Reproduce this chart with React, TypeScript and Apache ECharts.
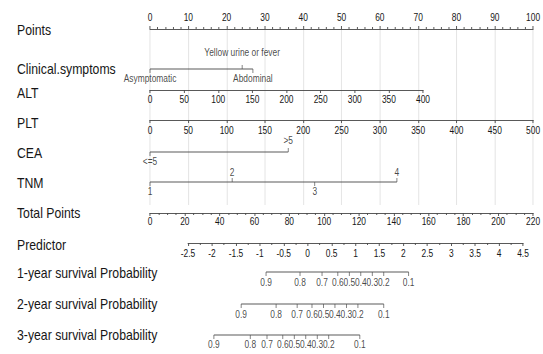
import React, { useEffect, useRef } from "react";
import * as echarts from "echarts";

const FONT = "'Liberation Sans', Arial, sans-serif";
const TEXT = "#161616";
const AXIS = "#4a4a4a";

// ---- data ----
const rowLabels = [
  "Points",
  "Clinical.symptoms",
  "ALT",
  "PLT",
  "CEA",
  "TNM",
  "Total Points",
  "Predictor",
  "1-year survival Probability",
  "2-year survival Probability",
  "3-year survival Probability",
];

const pointsRange = [0, 100];
const pointsInterval = 10;

const clinicalCategories = ["Asymptomatic", "Yellow urine or fever", "Abdominal"];
const clinicalPoints = [0, 24, 26.8];
const clinicalSides = ["bottom", "top", "bottom"];

const altRange = [0, 400];
const altInterval = 50;
const altMaxPoints = 71.1;

const pltRange = [0, 500];
const pltInterval = 50;
const pltMaxPoints = 100;

const ceaCategories = ["<=5", ">5"];
const ceaPoints = [0, 36];
const ceaSides = ["bottom", "top"];

const tnmCategories = ["1", "2", "3", "4"];
const tnmPoints = [0, 21.4, 42.9, 64.3];
const tnmSides = ["bottom", "top", "bottom", "top"];

const totalRange = [0, 220];
const totalInterval = 20;

const predictorRange = [-2.5, 4.5];
const predictorInterval = 0.5;
const predictorTotalPoints = [21.8, 213.7];

const survivalLabels = ["0.9", "0.8", "0.7", "0.6", "0.5", "0.4", "0.3", "0.2", "0.1"];
const survival1Year = [-0.87, -0.16, 0.3, 0.63, 0.87, 1.11, 1.35, 1.59, 2.11];
const survival2Year = [-1.39, -0.66, -0.22, 0.09, 0.33, 0.57, 0.81, 1.05, 1.59];
const survival3Year = [-1.96, -1.2, -0.85, -0.52, -0.28, -0.04, 0.2, 0.44, 1.09];

// ---- layout (reference pixels; the drawing is condensed horizontally by SX) ----
const SX = 0.84;
const W = 543;
const H = 354;
const PTS_LEFT = 150 / SX;
const PTS_WIDTH = 384 / SX;
const LABEL_X = 17 / SX;
const labelY = [30, 69, 93, 123, 153, 183, 213, 245, 273, 304, 335];

function buildOption() {
  const grid: any[] = [];
  const xAxis: any[] = [];
  const yAxis: any[] = [];
  const series: any[] = [];

  const axisCommon = (min: number, max: number, interval: number, position: string, margin: number, minorSplit: number) => ({
    type: "value",
    min,
    max,
    interval,
    position,
    axisLine: { show: true, onZero: false, lineStyle: { color: AXIS, width: 1 } },
    axisTick: { show: true, length: 3, lineStyle: { color: AXIS, width: 1 } },
    minorTick: { show: minorSplit > 0, splitNumber: minorSplit || 5, length: 2, lineStyle: { color: AXIS, width: 1 } },
    axisLabel: { fontSize: 10, color: TEXT, fontFamily: FONT, margin, showMinLabel: true, showMaxLabel: true },
    splitLine: { show: false },
  });

  const addAxisRow = (left: number, width: number, top: number, height: number, x: any) => {
    const i = grid.length;
    grid.push({ left, width, top, height });
    xAxis.push({ gridIndex: i, ...x });
    yAxis.push({ gridIndex: i, type: "value", show: false, min: -1, max: 1 });
    return i;
  };

  const addCustomRow = (
    left: number,
    width: number,
    centerY: number,
    min: number,
    max: number,
    positions: number[],
    names: string[],
    sides: string[],
    dTop: number,
    dBottom: number,
    fontSize: number
  ) => {
    const i = grid.length;
    grid.push({ left, width, top: centerY - 10, height: 20 });
    xAxis.push({ gridIndex: i, type: "value", show: false, min, max });
    yAxis.push({ gridIndex: i, type: "value", show: false, min: -1, max: 1 });
    series.push({
      type: "line",
      xAxisIndex: i,
      yAxisIndex: i,
      data: [
        [Math.min(...positions), 0],
        [Math.max(...positions), 0],
      ],
      symbol: "none",
      clip: false,
      silent: true,
      lineStyle: { color: AXIS, width: 1 },
    });
    series.push({
      type: "scatter",
      xAxisIndex: i,
      yAxisIndex: i,
      symbol: "rect",
      clip: false,
      silent: true,
      itemStyle: { color: AXIS },
      data: positions.map((p, k) => ({
        value: [p, 0],
        name: names[k],
        symbolSize: [1, 4],
        symbolOffset: [0, sides[k] === "top" ? -2 : 2],
        label: {
          show: true,
          position: sides[k],
          distance: sides[k] === "top" ? dTop : dBottom,
          formatter: "{b}",
          fontSize,
          color: TEXT,
          fontFamily: FONT,
        },
      })),
    });
  };

  const ptsWidth = (p: number) => (PTS_WIDTH * p) / (pointsRange[1] - pointsRange[0]);

  // Points (with vertical reference lines)
  addAxisRow(PTS_LEFT, PTS_WIDTH, 29, 176, {
    ...axisCommon(pointsRange[0], pointsRange[1], pointsInterval, "top", 6, 5),
    splitLine: { show: true, lineStyle: { color: "#e2e2e2", width: 1 } },
  });

  // Clinical symptoms
  addCustomRow(PTS_LEFT, PTS_WIDTH, 69, pointsRange[0], pointsRange[1], clinicalPoints, clinicalCategories, clinicalSides, 7, 1, 10);

  // ALT
  addAxisRow(PTS_LEFT, ptsWidth(altMaxPoints), 80, 10, axisCommon(altRange[0], altRange[1], altInterval, "bottom", 5, 0));

  // PLT
  addAxisRow(PTS_LEFT, ptsWidth(pltMaxPoints), 110, 10, axisCommon(pltRange[0], pltRange[1], pltInterval, "bottom", 6, 0));

  // CEA
  addCustomRow(PTS_LEFT, PTS_WIDTH, 152, pointsRange[0], pointsRange[1], ceaPoints, ceaCategories, ceaSides, 2, 1, 10);

  // TNM
  addCustomRow(PTS_LEFT, PTS_WIDTH, 182, pointsRange[0], pointsRange[1], tnmPoints, tnmCategories, tnmSides, 0, 1, 10);

  // Total points
  addAxisRow(PTS_LEFT, PTS_WIDTH, 203, 10, axisCommon(totalRange[0], totalRange[1], totalInterval, "bottom", 4, 4));

  // Predictor
  const totSpan = totalRange[1] - totalRange[0];
  const predLeft = PTS_LEFT + (PTS_WIDTH * predictorTotalPoints[0]) / totSpan;
  const predWidth = (PTS_WIDTH * (predictorTotalPoints[1] - predictorTotalPoints[0])) / totSpan;
  addAxisRow(predLeft, predWidth, 233, 10, axisCommon(predictorRange[0], predictorRange[1], predictorInterval, "bottom", 6, 2));

  // Survival probabilities
  const sides = survivalLabels.map(() => "bottom");
  addCustomRow(predLeft, predWidth, 272, predictorRange[0], predictorRange[1], survival1Year, survivalLabels, sides, 0, 2, 10);
  addCustomRow(predLeft, predWidth, 304, predictorRange[0], predictorRange[1], survival2Year, survivalLabels, sides, 0, 2, 10);
  addCustomRow(predLeft, predWidth, 335, predictorRange[0], predictorRange[1], survival3Year, survivalLabels, sides, 0, 1, 10);

  const graphic = rowLabels.map((t, k) => ({
    type: "text",
    x: LABEL_X,
    y: labelY[k],
    silent: true,
    style: {
      text: t,
      fontSize: 14.6,
      fontFamily: FONT,
      fill: TEXT,
      verticalAlign: "middle",
      align: "left",
    },
  }));

  return {
    animation: false,
    backgroundColor: "#ffffff",
    textStyle: { fontFamily: FONT },
    grid,
    xAxis,
    yAxis,
    series,
    graphic,
  };
}

export default function App() {
  const ref = useRef<HTMLDivElement>(null);
  useEffect(() => {
    if (!ref.current) return;
    const chart = echarts.init(ref.current, undefined, { renderer: "svg" });
    chart.setOption(buildOption() as any);
    return () => chart.dispose();
  }, []);
  return (
    <div style={{ position: "absolute", left: 0, top: 0, width: W, height: H, overflow: "hidden", background: "#fff" }}>
      <div
        ref={ref}
        style={{
          width: W / SX,
          height: H,
          transform: `scaleX(${SX})`,
          transformOrigin: "0 0",
        }}
      />
    </div>
  );
}
